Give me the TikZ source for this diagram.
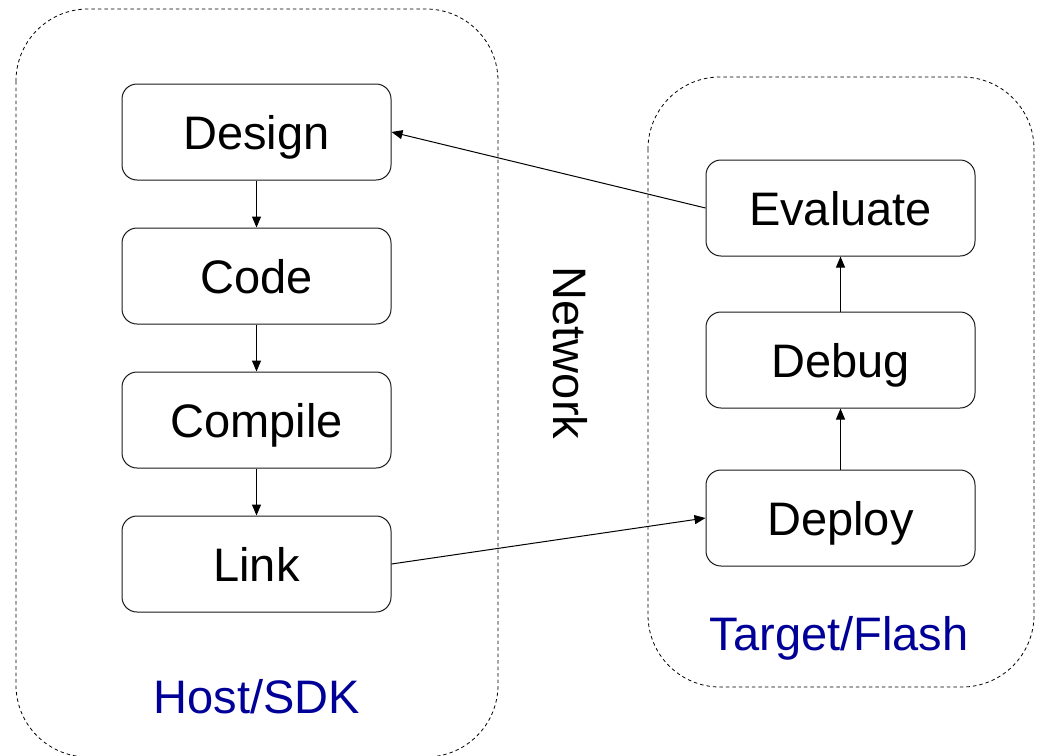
\documentclass[tikz,border=0pt]{standalone}
\usepackage{fontspec}
\setmainfont{Liberation Sans}
\usetikzlibrary{arrows.meta}
\definecolor{labelblue}{RGB}{0,0,153}
\begin{document}
\begin{tikzpicture}[x=1pt,y=-1pt,
  stage/.style={draw=black!90, line width=1pt, rounded corners=15pt,
    minimum width=269pt, minimum height=96pt, inner sep=0pt,
    text height=34pt, text depth=0pt, font=\fontsize{47}{56}\selectfont},
  zone/.style={draw=black, line width=0.8pt, dash pattern=on 3.5pt off 3pt,
    rounded corners=72pt},
  flow/.style={-{Triangle[length=11pt,width=9pt]}, line width=1pt},
  zonelabel/.style={text=labelblue, font=\fontsize{47}{56}\selectfont, anchor=base}
]
\useasboundingbox (0,0) rectangle (1038,755);

% dashed zones
\draw[zone] (16,9) rectangle (498,757);
\draw[zone] (648,77) rectangle (1034,687);

% host side stages
\node[stage] (design)  at (256.5,132) {Design};
\node[stage] (code)    at (256.5,276) {Code};
\node[stage] (compile) at (256.5,420) {Compile};
\node[stage] (link)    at (256.5,564) {Link};

% target side stages
\node[stage] (deploy)   at (840.5,518) {Deploy};
\node[stage] (debug)    at (840.5,360) {Debug};
\node[stage] (evaluate) at (840.5,208) {Evaluate};

% connectors
\draw[flow] (design) -- (code);
\draw[flow] (code) -- (compile);
\draw[flow] (compile) -- (link);
\draw[flow] (link.east) -- (deploy.west);
\draw[flow] (deploy) -- (debug);
\draw[flow] (debug) -- (evaluate);
\draw[flow] (evaluate.west) -- (design.east);

% labels
\node[rotate=-90, font=\fontsize{47}{56}\selectfont] (net) at (570,353) {Network};
\node[zonelabel] (host) at (257,713) {Host/SDK};
\node[zonelabel] (target) at (839,650) {Target/Flash};
\end{tikzpicture}
\end{document}
